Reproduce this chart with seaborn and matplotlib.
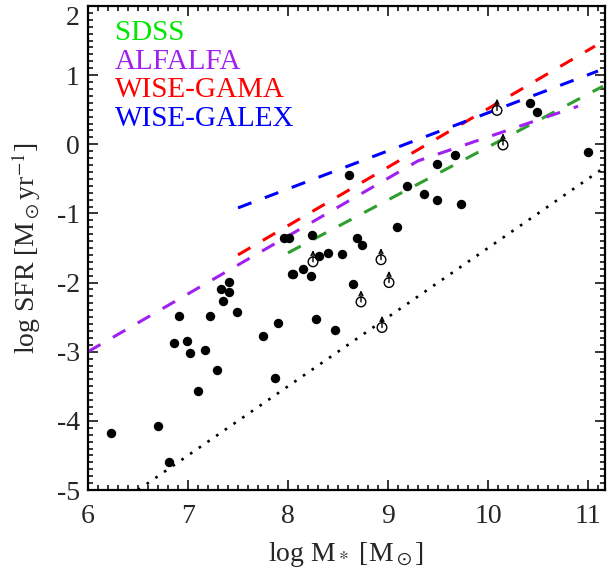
import matplotlib
matplotlib.use("Agg")
import matplotlib.pyplot as plt
from matplotlib.ticker import MultipleLocator
import numpy as np
import pandas as pd
import seaborn as sns

# Galaxies with measured SFR
det_logm = [6.23, 6.70, 6.81, 6.86, 6.91, 6.99, 7.02, 7.10, 7.17, 7.22, 7.29,
            7.33, 7.35, 7.41, 7.41, 7.49, 7.75, 7.87, 7.90, 7.96, 8.01, 8.04,
            8.05, 8.15, 8.23, 8.24, 8.28, 8.31, 8.40, 8.47, 8.54, 8.61, 8.65,
            8.69, 8.74, 9.09, 9.19, 9.36, 9.49, 9.49, 9.67, 9.73, 10.42, 10.49,
            11.00]
det_logsfr = [-4.17, -4.07, -4.59, -2.88, -2.48, -2.85, -3.02, -3.57, -2.98,
              -2.48, -3.27, -2.10, -2.27, -1.99, -2.14, -2.43, -2.77, -3.38,
              -2.58, -1.35, -1.35, -1.88, -1.87, -1.80, -1.90, -1.31, -2.53,
              -1.61, -1.57, -2.69, -1.58, -0.45, -2.02, -1.35, -1.45, -1.20,
              -0.60, -0.72, -0.29, -0.80, -0.15, -0.86, 0.59, 0.47, -0.11]

# Lower limits
lim_logm = [8.25, 8.93, 9.01, 8.73, 8.94, 10.09, 10.15]
lim_logsfr = [-1.70, -1.67, -2.00, -2.28, -2.65, 0.49, -0.01]

# Star-forming sequences
sdss_logm = [8.0, 11.15]
sdss_logsfr = [-1.57, 0.84]
alfalfa_logm = [6.0, 9.3, 10.9]
alfalfa_logsfr = [-3.0, -0.24, 0.55]
gama_logm = [7.5, 11.07]
gama_logsfr = [-1.60, 1.42]
galex_logm = [7.5, 11.1]
galex_logsfr = [-0.92, 1.06]

# Constant sSFR reference line
ref_logm = [6.5, 11.2]
ref_logsfr = [-5.0, -0.3]

survey_names = ["SDSS", "ALFALFA", "WISE-GAMA", "WISE-GALEX"]
text_colors = ["#00e600", "#a020f0", "#ff0000", "#0000ff"]
line_colors = ["#2e9e2e", "#a020f0", "#ff0000", "#0000ff"]

sns.set_theme(style="ticks")
plt.rcParams["font.family"] = ["Liberation Serif", "DejaVu Serif"]
plt.rcParams["mathtext.fontset"] = "stix"
plt.rcParams["axes.unicode_minus"] = False

fig = plt.figure(figsize=(6.09, 5.72), dpi=100)
ax = fig.add_axes([88 / 609, 1 - 490 / 572, 517 / 609, 484 / 572])

dash = (0, (4.7, 4.7))
relations = [(sdss_logm, sdss_logsfr), (alfalfa_logm, alfalfa_logsfr),
             (gama_logm, gama_logsfr), (galex_logm, galex_logsfr)]
for (mx, sy), col in zip(relations, line_colors):
    sns.lineplot(x=mx, y=sy, ax=ax, color=col, linewidth=2.2,
                 linestyle=dash, legend=False)

sns.lineplot(x=ref_logm, y=ref_logsfr, ax=ax, color="black", linewidth=1.9,
             linestyle=(0, (1, 3)), legend=False)

sns.scatterplot(x=det_logm, y=det_logsfr, ax=ax, color="black", s=46,
                linewidth=0, zorder=4)
sns.scatterplot(x=lim_logm, y=lim_logsfr, ax=ax, facecolor="none",
                edgecolor="black", s=48, linewidth=1.0, zorder=4)
for mx, sy in zip(lim_logm, lim_logsfr):
    ax.annotate("", xy=(mx, sy + 0.17), xytext=(mx, sy),
                arrowprops=dict(arrowstyle="->,head_length=0.25,head_width=0.12",
                                color="black", lw=1.0, shrinkA=0, shrinkB=0),
                zorder=5)

for i, (name, col) in enumerate(zip(survey_names, text_colors)):
    ax.text(0.052, 0.930 - i * 0.0595, name, color=col, fontsize=21,
            transform=ax.transAxes, va="baseline", ha="left")

ax.set_xlim(6, 11.17)
ax.set_ylim(-5, 2)
ax.xaxis.set_major_locator(MultipleLocator(1))
ax.xaxis.set_minor_locator(MultipleLocator(0.1))
ax.yaxis.set_major_locator(MultipleLocator(1))
ax.yaxis.set_minor_locator(MultipleLocator(0.1))
ax.tick_params(which="both", direction="in", top=True, right=True,
               color="black", width=1.1)
ax.tick_params(which="major", length=7.5, labelsize=20)
ax.tick_params(axis="x", which="major", pad=10)
ax.tick_params(axis="y", which="major", pad=6)
ax.tick_params(which="minor", length=3.8)
for sp in ax.spines.values():
    sp.set_linewidth(1.6)
    sp.set_color("black")

ax.set_xlabel(r"log M$_*$ [M$_\odot$]", fontsize=20, labelpad=8)
ax.set_ylabel(r"log SFR [M$_\odot$yr$^{-1}$]", fontsize=20, labelpad=10)

# keep the topmost y label inside the figure
fig.canvas.draw()
for tick in ax.yaxis.get_major_ticks():
    if abs(tick.get_loc() - 2) < 1e-6:
        tick.label1.set_verticalalignment("top")

fig.savefig("out.png", dpi=100)
